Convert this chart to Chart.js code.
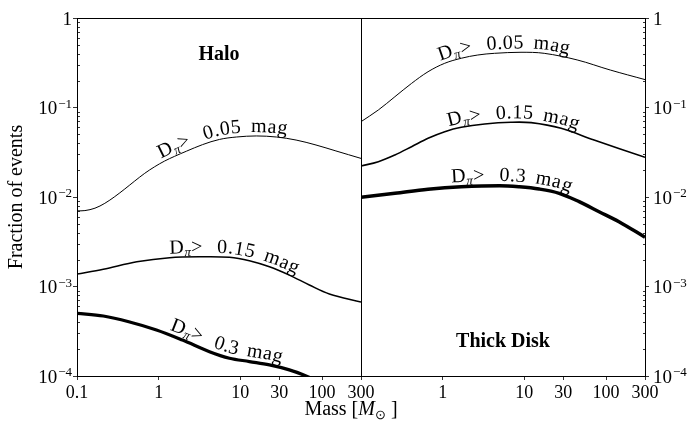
<!DOCTYPE html>
<html>
<head>
<meta charset="utf-8">
<script src="https://cdn.jsdelivr.net/npm/chart.js@4.4.1/dist/chart.umd.min.js"></script>
<style>
  html, body { margin: 0; padding: 0; background: #fff; }
  #wrap { position: relative; width: 690px; height: 421px; }
  #wrap canvas { position: absolute; left: 0; top: 0; }
</style>
</head>
<body>
<div id="wrap">
  <canvas id="c-halo" width="690" height="421" style="width:690px;height:421px"></canvas>
  <canvas id="c-disk" width="690" height="421" style="width:690px;height:421px"></canvas>
</div>
<script>
// ── DATA ─────────────────────────────────────────
const haloMass05 = [0.1, 0.125, 0.166, 0.219, 0.29, 0.385, 0.51, 0.675, 0.894, 1.18, 1.57, 2.19, 3.45, 5.56, 8.96, 15.7, 27.6, 48.1, 84.4, 148, 300];
const haloFrac05 = [7.0e-3, 7.05e-3, 7.5e-3, 8.5e-3, 0.0101, 0.0123, 0.0151, 0.0184, 0.0218, 0.0252, 0.0285, 0.0325, 0.0385, 0.0440, 0.0468, 0.0481, 0.0468, 0.0433, 0.0381, 0.0327, 0.0270];

const haloMass15 = [0.1, 0.21, 0.54, 1.36, 3.45, 7.35, 12.9, 22.7, 39.8, 69.9, 123, 300];
const haloFrac15 = [1.38e-3, 1.56e-3, 1.89e-3, 2.10e-3, 2.15e-3, 2.12e-3, 1.94e-3, 1.66e-3, 1.34e-3, 1.04e-3, 8.25e-4, 6.7e-4];

const haloMass03 = [0.1, 0.21, 0.43, 0.94, 1.96, 4.19, 7.35, 12.9, 22.7, 39.8, 63.8, 100, 300];
const haloFrac03 = [5.02e-4, 4.68e-4, 4.04e-4, 3.27e-4, 2.52e-4, 1.87e-4, 1.58e-4, 1.45e-4, 1.33e-4, 1.17e-4, 1.0e-4, 8.3e-5, 5.0e-5];

const diskMass05 = [0.1, 0.163, 0.26, 0.416, 0.662, 1.06, 1.69, 2.69, 4.31, 9.1, 17.5, 44.3, 113, 300];
const diskFrac05 = [0.0694, 0.0938, 0.132, 0.186, 0.251, 0.312, 0.355, 0.386, 0.403, 0.414, 0.403, 0.340, 0.262, 0.205];

const diskMass15 = [0.1, 0.163, 0.26, 0.416, 0.662, 1.06, 1.69, 3.27, 6.88, 12.1, 28.2, 71.4, 300];
const diskFrac15 = [0.0222, 0.0248, 0.0295, 0.0365, 0.0453, 0.0537, 0.0601, 0.0654, 0.0684, 0.0677, 0.0586, 0.0433, 0.0278];

const diskMass03 = [0.1, 0.26, 0.662, 1.69, 4.96, 8.69, 15.2, 26.7, 46.9, 82.2, 144, 300];
const diskFrac03 = [9.93e-3, 0.0110, 0.0122, 0.0130, 0.01337, 0.0130, 0.01228, 0.0110, 8.86e-3, 6.85e-3, 5.30e-3, 3.55e-3];

const haloTicksX = [0.1, 1, 10, 30, 100, 300];
const diskTicksX = [1, 10, 30, 100, 300];
const decadesY = [1e-4, 1e-3, 1e-2, 1e-1, 1];
const thresholds = ['0.05', '0.15', '0.3'];

// ── HELPERS ──────────────────────────────────────
const SERIF = '"Liberation Serif", "Times New Roman", serif';
const INK = '#000';

function toPoints(mass, frac) {
  return mass.map((m, i) => ({ x: m, y: frac[i] }));
}

function yTicks() {
  const out = [];
  decadesY.forEach((d, i) => {
    out.push({ value: d, major: true });
    if (i < decadesY.length - 1) for (let k = 2; k <= 9; k++) out.push({ value: k * d, major: false });
  });
  return out;
}

function curve(mass, frac, width) {
  return {
    data: toPoints(mass, frac),
    borderColor: INK,
    borderWidth: width,
    pointRadius: 0,
    fill: false,
    tension: 0.35,
    clip: 0,
  };
}

// curved text that follows a dataset's line
function drawCurveLabel(chart, lab) {
  const ctx = chart.ctx;
  const pts = chart.getDatasetMeta(lab.ds).data.map(p => ({ x: p.x, y: p.y }));
  const cum = [0];
  for (let i = 1; i < pts.length; i++)
    cum.push(cum[i - 1] + Math.hypot(pts[i].x - pts[i - 1].x, pts[i].y - pts[i - 1].y));
  const at = d => {
    d = Math.max(0, Math.min(cum[cum.length - 1], d));
    let i = 0;
    while (i < cum.length - 2 && cum[i + 1] < d) i++;
    const t = (d - cum[i]) / ((cum[i + 1] - cum[i]) || 1);
    return { x: pts[i].x + t * (pts[i + 1].x - pts[i].x), y: pts[i].y + t * (pts[i + 1].y - pts[i].y) };
  };
  const x0 = chart.scales.x.getPixelForValue(lab.start);
  let s = 0;
  for (let i = 0; i < pts.length - 1; i++) {
    if (x0 >= pts[i].x && x0 <= pts[i + 1].x) {
      s = cum[i] + (x0 - pts[i].x) / (pts[i + 1].x - pts[i].x) * (cum[i + 1] - cum[i]);
      break;
    }
  }
  const pieces = [
    { t: 'D' }, { t: 'π', sub: true, track: 0.3 }, { t: '>' }, { gap: 14 },
    { t: lab.text }, { gap: 9 }, { t: 'mag' }
  ];
  ctx.save();
  ctx.fillStyle = INK;
  ctx.textAlign = 'center';
  ctx.textBaseline = 'alphabetic';
  for (const piece of pieces) {
    if (piece.gap) { s += piece.gap; continue; }
    ctx.font = piece.sub ? `italic 13px ${SERIF}` : `20px ${SERIF}`;
    for (const ch of piece.t) {
      const w = ctx.measureText(ch).width;
      const m = s + w / 2;
      const p = at(m), a = at(m - 7), b = at(m + 7);
      const ang = Math.atan2(b.y - a.y, b.x - a.x);
      ctx.save();
      ctx.translate(p.x, p.y);
      ctx.rotate(ang);
      ctx.fillText(ch, 0, -lab.lift + (piece.sub ? 3 : 0));
      ctx.restore();
      s += w + (piece.track != null ? piece.track : 0.4);
    }
  }
  ctx.restore();
}

function drawPow(ctx, v, x, y, side) {
  const e = Math.round(Math.log10(v));
  ctx.textBaseline = 'alphabetic';
  ctx.fillStyle = INK;
  if (e === 0) {
    ctx.font = `19px ${SERIF}`;
    ctx.textAlign = side === 'left' ? 'right' : 'left';
    ctx.fillText('1', x, y + 7);
    return;
  }
  const exp = '\u2212' + (-e);
  ctx.font = `13px ${SERIF}`;
  const we = ctx.measureText(exp).width;
  ctx.font = `19px ${SERIF}`;
  const wb = ctx.measureText('10').width;
  const left = side === 'left' ? x - we - wb - 1 : x;
  ctx.textAlign = 'left';
  ctx.fillText('10', left, y + 6.5);
  ctx.font = `13px ${SERIF}`;
  ctx.fillText(exp, left + wb + 1, y);
}

// frame, minor ticks, y labels, panel title, curve labels
function panelPlugin(cfg) {
  return {
    id: 'panel',
    afterDraw(chart) {
      const { ctx, chartArea: a } = chart;
      const ys = chart.scales.y;
      ctx.save();
      ctx.strokeStyle = INK;
      ctx.lineWidth = 1;
      ctx.strokeRect(a.left + 0.5, a.top + 0.5, a.right - a.left, a.bottom - a.top);
      // minor y ticks, inward
      const ax = cfg.side === 'left' ? a.left + 0.5 : a.right + 0.5;
      const dir = cfg.side === 'left' ? 1 : -1;
      ctx.lineWidth = 0.8;
      ys.ticks.filter(t => !t.major).forEach(t => {
        const y = Math.round(ys.getPixelForValue(t.value)) + 0.5;
        ctx.beginPath(); ctx.moveTo(ax, y); ctx.lineTo(ax + dir * 2.5, y); ctx.stroke();
      });
      // y tick labels
      ys.ticks.filter(t => t.major).forEach(t => {
        const y = ys.getPixelForValue(t.value);
        drawPow(ctx, t.value, cfg.side === 'left' ? a.left - 5 : a.right + 8, y, cfg.side);
      });
      // panel title
      ctx.font = `bold 20px ${SERIF}`;
      ctx.textAlign = 'center';
      ctx.textBaseline = 'alphabetic';
      ctx.fillText(cfg.title, (a.left + a.right) / 2, cfg.titleTop ? a.top + 42 : a.bottom - 29);
      ctx.restore();
      cfg.labels.forEach(lab => drawCurveLabel(chart, lab));
      if (cfg.xTitle) {
        ctx.save();
        ctx.fillStyle = INK;
        ctx.textBaseline = 'alphabetic';
        ctx.textAlign = 'left';
        const parts = [
          { t: 'Mass [', f: `20px ${SERIF}`, dy: 0 },
          { t: 'M', f: `italic 20px ${SERIF}`, dy: 0 },
          { t: '\u2299', f: `13px ${SERIF}`, dy: 4 },
          { t: ' ]', f: `20px ${SERIF}`, dy: 0 }
        ];
        let total = 0;
        parts.forEach(p => { ctx.font = p.f; p.w = ctx.measureText(p.t).width; total += p.w; });
        let x = 351 - total / 2;
        parts.forEach(p => { ctx.font = p.f; ctx.fillText(p.t, x, 415 + p.dy); x += p.w; });
        ctx.restore();
      }
    }
  };
}

function makePanel(id, opts) {
  return new Chart(document.getElementById(id).getContext('2d'), {
    type: 'line',
    data: { datasets: opts.datasets },
    options: {
      responsive: false,
      animation: false,
      events: [],
      layout: { padding: opts.padding },
      plugins: { legend: { display: false }, tooltip: { enabled: false } },
      scales: {
        x: {
          type: 'logarithmic', min: 0.1, max: 300,
          afterBuildTicks: s => { s.ticks = opts.ticksX.map(v => ({ value: v, major: true })); },
          afterFit: s => { s.height = 45; },
          border: { display: false },
          grid: { drawOnChartArea: false, tickLength: 4, color: INK, lineWidth: 0.8 },
          ticks: { autoSkip: false, maxRotation: 0, padding: 2, color: INK,
                   font: { family: SERIF, size: 18 }, callback: v => String(v) }
        },
        y: {
          type: 'logarithmic', min: 1e-4, max: 1, position: opts.side,
          afterBuildTicks: s => { s.ticks = yTicks(); },
          afterFit: s => { s.width = opts.yWidth; },
          border: { display: false },
          grid: { drawOnChartArea: false, tickLength: 4, lineWidth: 0.8,
                  color: c => (c.tick && c.tick.major) ? INK : 'rgba(0,0,0,0)' },
          ticks: { autoSkip: false, callback: () => '' },
          title: { display: !!opts.yTitle, text: opts.yTitle || '', color: INK,
                   font: { family: SERIF, size: 20 }, padding: { top: 5, bottom: 0 } }
        }
      }
    },
    plugins: [panelPlugin(opts.panel)]
  });
}

// ── CHARTS ───────────────────────────────────────
makePanel('c-halo', {
  side: 'left', yWidth: 77, yTitle: 'Fraction of events', ticksX: haloTicksX,
  padding: { left: 0, top: 18, right: 329, bottom: 0 },
  datasets: [
    curve(haloMass05, haloFrac05, 1),
    curve(haloMass15, haloFrac15, 1.5),
    curve(haloMass03, haloFrac03, 3.2)
  ],
  panel: {
    side: 'left', title: 'Halo', titleTop: true, xTitle: true,
    labels: [
      { ds: 0, start: 1.12, text: thresholds[0], lift: 4 },
      { ds: 1, start: 1.36, text: thresholds[1], lift: 4 },
      { ds: 2, start: 1.29, text: thresholds[2], lift: 5 }
    ]
  }
});

makePanel('c-disk', {
  side: 'right', yWidth: 45, ticksX: diskTicksX,
  padding: { left: 361, top: 18, right: 0, bottom: 0 },
  datasets: [
    curve(diskMass05, diskFrac05, 1),
    curve(diskMass15, diskFrac15, 1.6),
    curve(diskMass03, diskFrac03, 3.5)
  ],
  panel: {
    side: 'right', title: 'Thick Disk', titleTop: false,
    labels: [
      { ds: 0, start: 0.97, text: thresholds[0], lift: 4 },
      { ds: 1, start: 1.22, text: thresholds[1], lift: 4 },
      { ds: 2, start: 1.29, text: thresholds[2], lift: 5 }
    ]
  }
});
</script>
</body>
</html>
